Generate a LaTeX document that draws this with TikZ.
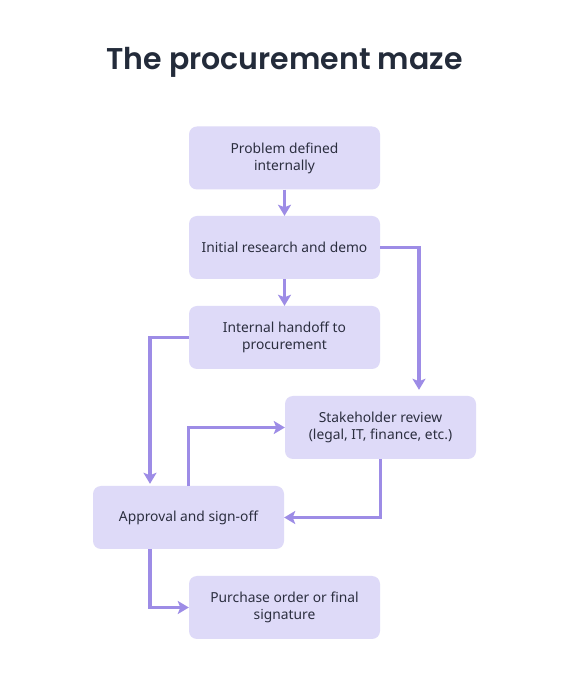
\documentclass[tikz,border=0pt]{standalone}
\usepackage{fontspec}
\setmainfont{Noto Sans}
\newfontfamily\titlefont{Poppins SemiBold}
\usetikzlibrary{arrows.meta}
\definecolor{boxfill}{HTML}{DEDAF8}
\definecolor{arrowc}{HTML}{9D8CE6}
\definecolor{textc}{HTML}{2B2E3F}
\definecolor{titlec}{HTML}{232B3A}
\tikzset{
  stepbox/.style={draw=none, fill=boxfill, rounded corners=8pt, minimum width=191pt, minimum height=63pt, align=center, text=textc, font=\fontsize{13.8pt}{17pt}\selectfont, inner sep=0pt},
  conn/.style={draw=arrowc, line width=3.8pt, -{Stealth[length=11pt,width=13pt,inset=2.5pt]}}
}
\begin{document}
\begin{tikzpicture}[x=1pt,y=1pt]
\useasboundingbox (0,0) rectangle (569,675);
\fill[white] (0,0) rectangle (569,675);
\node[anchor=base, text=titlec, font=\titlefont\fontsize{30pt}{36pt}\selectfont] (title) at (284.5,605) {The procurement maze};
\node[stepbox] (b1) at (284.5,517) {Problem defined\\internally};
\node[stepbox] (b2) at (284.5,427.5) {Initial research and demo};
\node[stepbox] (b3) at (284.5,337.5) {Internal handoff to\\procurement};
\node[stepbox] (b4) at (380.5,247.5) {Stakeholder review\\(legal, IT, finance, etc.)};
\node[stepbox] (b5) at (188.5,157.5) {Approval and sign-off};
\node[stepbox] (b6) at (284.5,67.5) {Purchase order or final\\signature};
\draw[conn] (b1) -- (b2);
\draw[conn] (b2) -- (b3);
\draw[conn, shorten >=6pt] (b2.east) -| ([xshift=38.5pt]b4.north);
\draw[conn, shorten >=2pt] (b3.west) -| ([xshift=-38.5pt]b5.north);
\draw[conn] (b5.north) |- (b4.west);
\draw[conn] (b4.south) |- (b5.east);
\draw[conn] ([xshift=-38.5pt]b5.south) |- (b6.west);
\end{tikzpicture}
\end{document}
